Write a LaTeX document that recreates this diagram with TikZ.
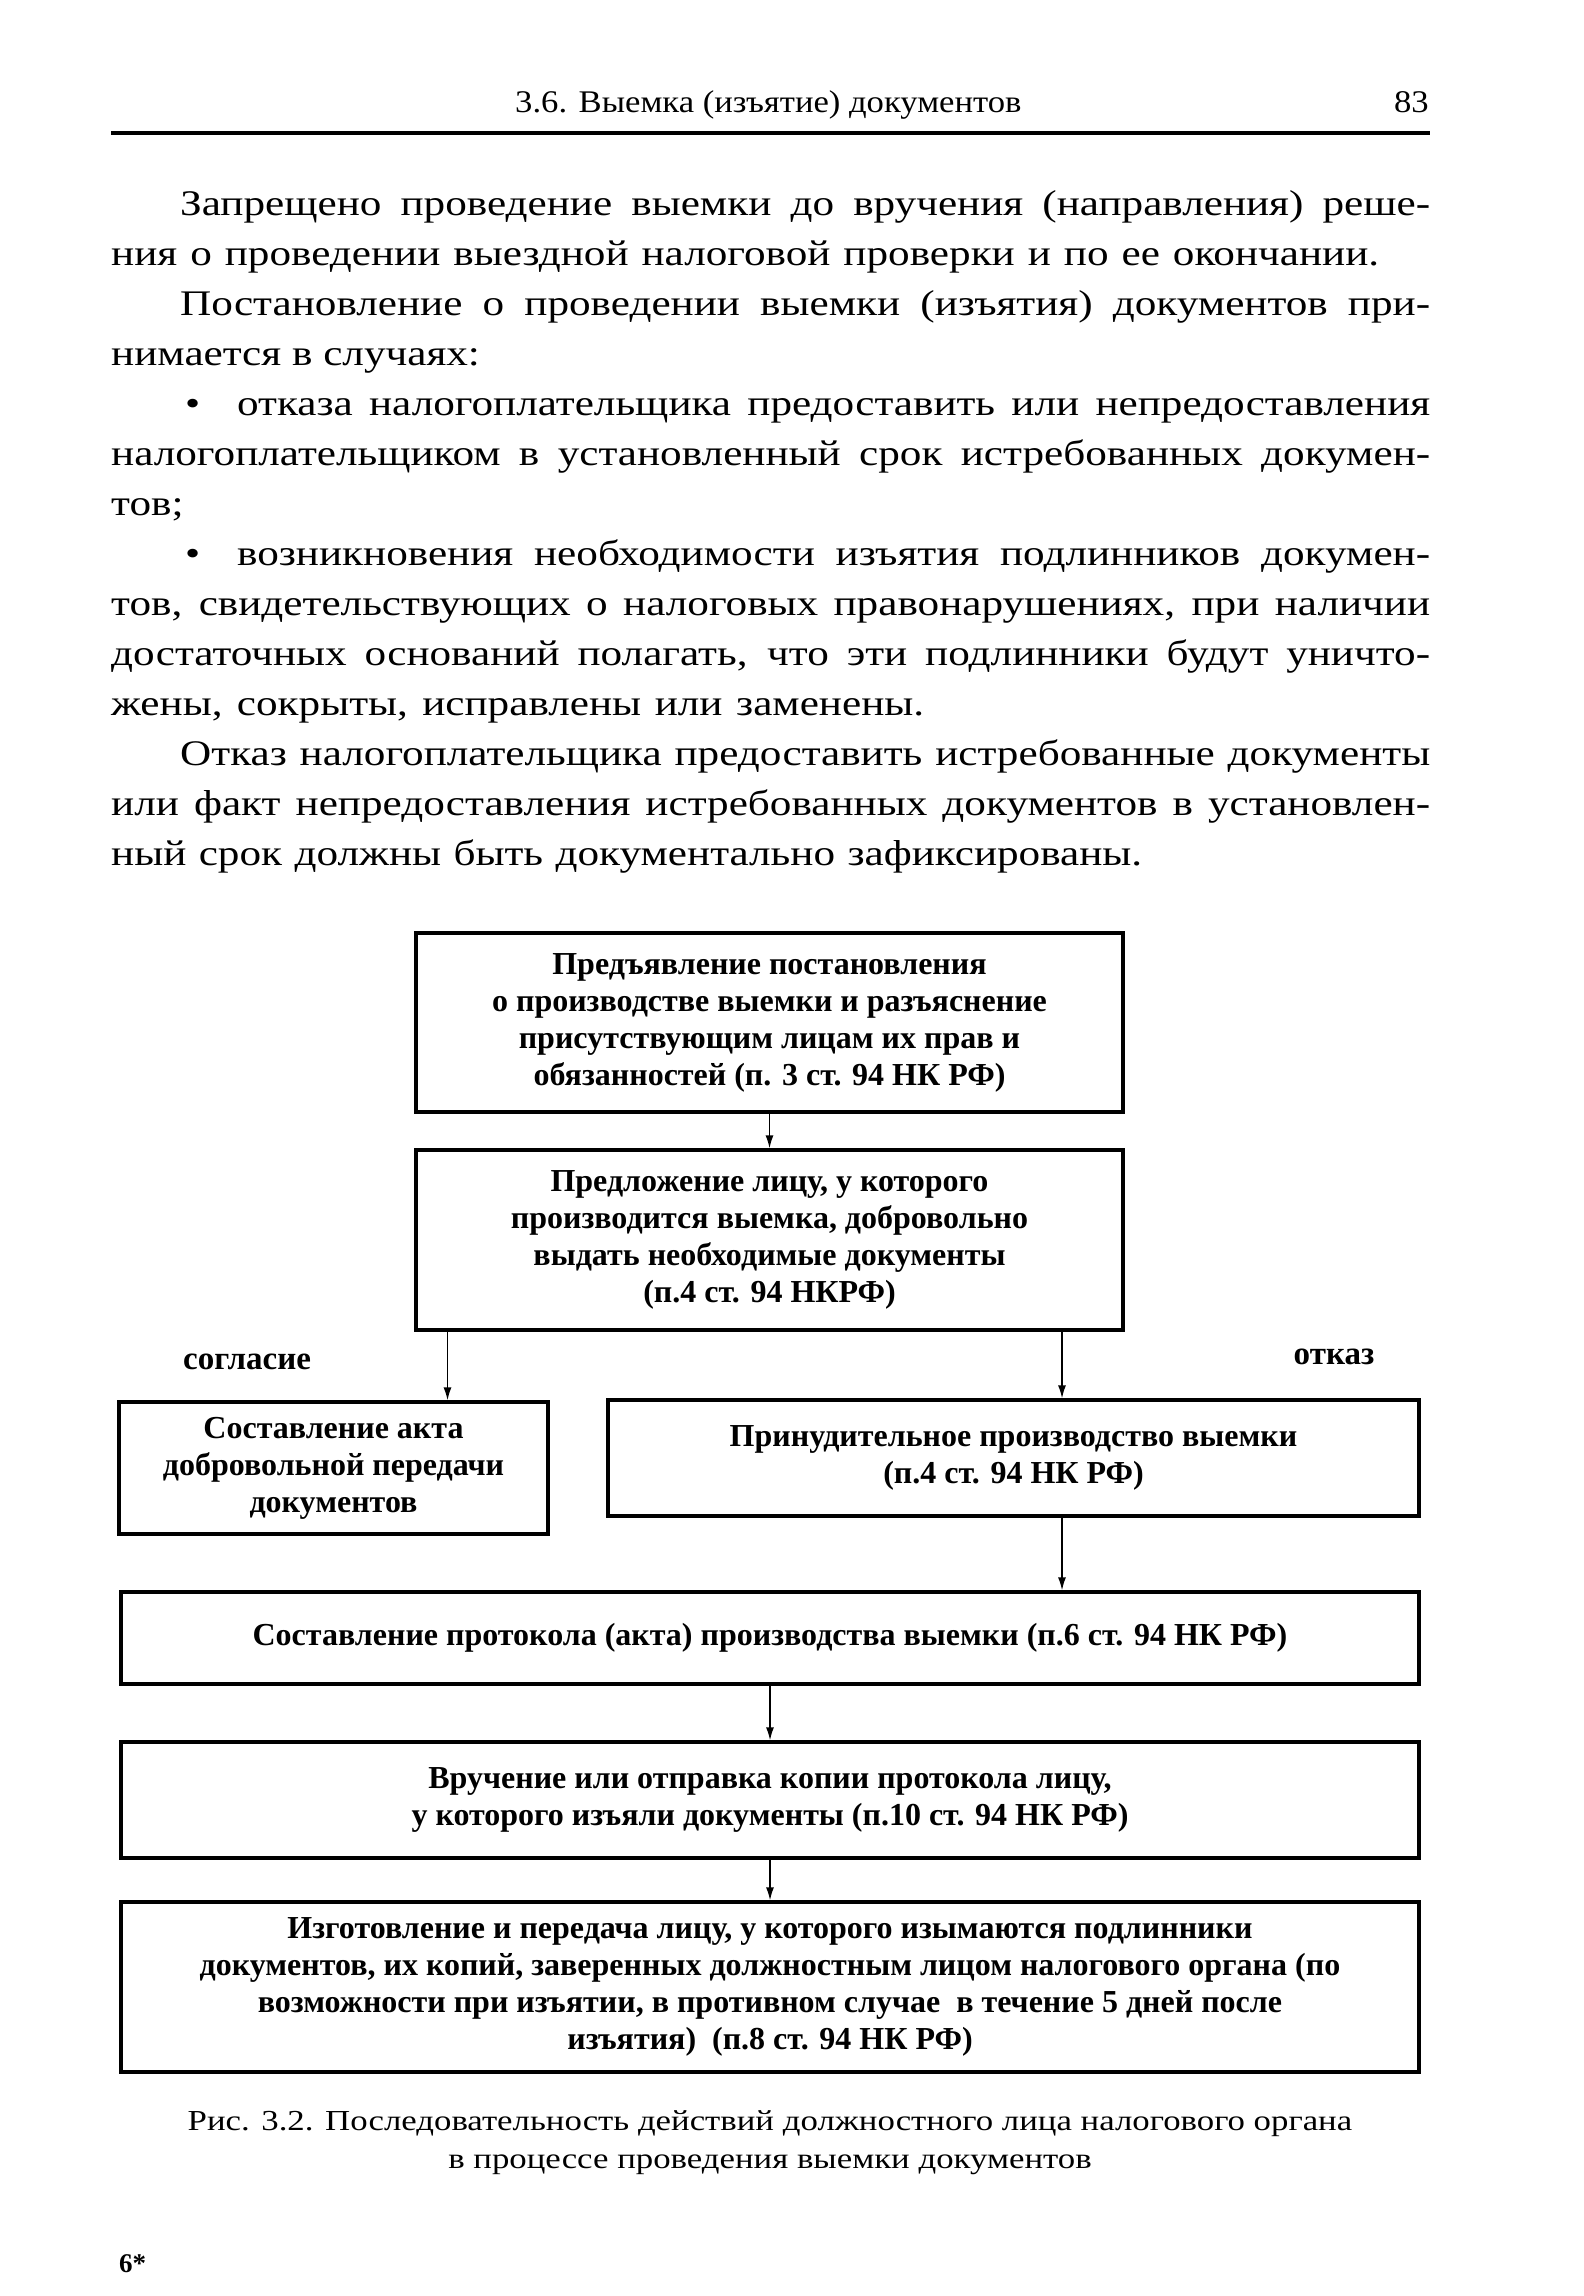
\documentclass[tikz,border=0pt]{standalone}
\usepackage{fontspec}
\setmainfont{Liberation Serif}
\newfontfamily\bodyfamily{Liberation Serif}[FakeStretch=1.2]
\newfontfamily\headfamily{Liberation Serif}[FakeStretch=1.1]
\usetikzlibrary{arrows.meta}
\newcommand\jl[5]{\node[bodytext] (#1) at (#2,#4) {\makebox[#3pt][s]{#5}};}
\begin{document}
\begin{tikzpicture}[x=1pt,y=-1pt,
  bodytext/.style={font=\bodyfamily\fontsize{36}{50}\selectfont, anchor=base west, inner sep=0pt},
  headtext/.style={font=\headfamily\fontsize{31.5}{36}\selectfont, inner sep=0pt},
  box/.style={draw, line width=3.2pt, inner sep=0pt, align=center, font=\bfseries\fontsize{32}{37}\selectfont},
  lbl/.style={font=\bfseries\fontsize{33}{36}\selectfont, anchor=base, inner sep=0pt},
  arr/.style={line width=1.6pt, -{Latex[length=13pt,width=8pt]}},
  captext/.style={font=\bodyfamily\fontsize{29}{38}\selectfont, anchor=base, inner sep=0pt}
]
\fill[white] (0,0) rectangle (1584,2296);
\useasboundingbox (0,0) rectangle (1584,2296);

% header
\node[headtext, anchor=base west] (hd) at (515,113) {3.6. Выемка (изъятие) документов};
\node[headtext, anchor=base east] (pg) at (1429,113) {83};
\draw[line width=3.5pt] (111,133) -- (1430,133);

% body text
\jl{l0}{180}{1250}{215}{Запрещено проведение выемки до вручения (направления) реше-}
\jl{l1}{111}{1268}{265}{ния о проведении выездной налоговой проверки и по ее окончании.}
\jl{l2}{180}{1250}{315}{Постановление о проведении выемки (изъятия) документов при-}
\node[bodytext] (l3) at (111,365) {нимается в случаях:};
\node[bodytext] (bu1) at (185,415) {•};
\jl{l4}{237}{1193}{415}{отказа налогоплательщика предоставить или непредоставления}
\jl{l5}{111}{1319}{465}{налогоплательщиком в установленный срок истребованных докумен-}
\node[bodytext] (l6) at (111,515) {тов;};
\node[bodytext] (bu2) at (185,565) {•};
\jl{l7}{237}{1193}{565}{возникновения необходимости изъятия подлинников докумен-}
\jl{l8}{111}{1319}{615}{тов, свидетельствующих о налоговых правонарушениях, при наличии}
\jl{l9}{111}{1319}{665}{достаточных оснований полагать, что эти подлинники будут уничто-}
\jl{l10}{111}{813}{715}{жены, сокрыты, исправлены или заменены.}
\jl{l11}{180}{1250}{765}{Отказ налогоплательщика предоставить истребованные документы}
\jl{l12}{111}{1319}{815}{или факт непредоставления истребованных документов в установлен-}
\jl{l13}{111}{1031}{865}{ный срок должны быть документально зафиксированы.}

% diagram
\node[box, minimum width=707pt, minimum height=179pt] (b1) at (769.5,1022.5)
  {Предъявление постановления\\о производстве выемки и разъяснение\\присутствующим лицам их прав и\\обязанностей (п. 3 ст. 94 НК РФ)};
\node[box, minimum width=707pt, minimum height=180pt] (b2) at (769.5,1240)
  {Предложение лицу, у которого\\производится выемка, добровольно\\выдать необходимые документы\\(п.4 ст. 94 НКРФ)};
\node[box, minimum width=429pt, minimum height=132pt] (b3) at (333.5,1468)
  {Составление акта\\добровольной передачи\\документов};
\node[box, minimum width=811pt, minimum height=116pt] (b4) at (1013.5,1458)
  {Принудительное производство выемки\\(п.4 ст. 94 НК РФ)};
\node[box, minimum width=1298pt, minimum height=92pt] (b5) at (770,1638)
  {Составление протокола (акта) производства выемки (п.6 ст. 94 НК РФ)};
\node[box, minimum width=1298pt, minimum height=116pt] (b6) at (770,1800)
  {Вручение или отправка копии протокола лицу,\\у которого изъяли документы (п.10 ст. 94 НК РФ)};
\node[box, minimum width=1298pt, minimum height=170pt] (b7) at (770,1987)
  {Изготовление и передача лицу, у которого изымаются подлинники\\документов, их копий, заверенных должностным лицом налогового органа (по\\возможности при изъятии, в противном случае~ в течение 5 дней после\\изъятия)~ (п.8 ст. 94 НК РФ)};

\coordinate (L) at (447.5,0);
\coordinate (R) at (1062,0);
\draw[arr] (b1.south) -- (b2.north);
\draw[arr] (b2.south -| L) -- (b3.north -| L);
\draw[arr] (b2.south -| R) -- (b4.north -| R);
\draw[arr] (b4.south -| R) -- (b5.north -| R);
\draw[arr] (b5.south) -- (b6.north);
\draw[arr] (b6.south) -- (b7.north);

\node[lbl] (ag) at (247,1369) {согласие};
\node[lbl] (rf) at (1334,1364) {отказ};

% caption
\node[captext] (c1) at (770,2130) {Рис. 3.2. Последовательность действий должностного лица налогового органа};
\node[captext] (c2) at (770,2168) {в процессе проведения выемки документов};

\node[font=\bfseries\fontsize{27}{30}\selectfont, anchor=base west, inner sep=0pt] (pn) at (119,2272) {6*};
\end{tikzpicture}
\end{document}
